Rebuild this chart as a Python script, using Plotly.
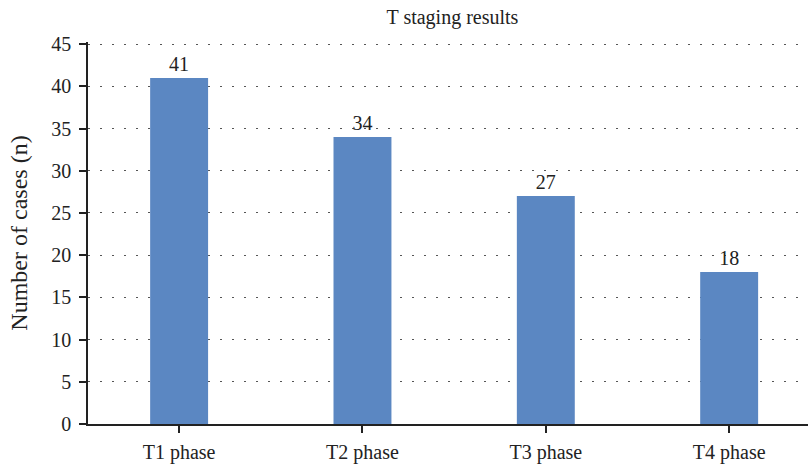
import plotly.graph_objects as go

# T staging counts
categories = ["T1 phase", "T2 phase", "T3 phase", "T4 phase"]
cases = [41, 34, 27, 18]
y_ticks = [0, 5, 10, 15, 20, 25, 30, 35, 40, 45]

font_family = "Liberation Serif, Times New Roman, serif"
ink = "#222222"

fig = go.Figure(
    go.Bar(
        x=categories,
        y=cases,
        width=0.316,
        marker=dict(color="#5B87C2", line=dict(width=0)),
        text=[str(v) for v in cases],
        textposition="outside",
        textfont=dict(family=font_family, size=20, color=ink),
        cliponaxis=False,
    )
)

fig.update_layout(
    width=808,
    height=464,
    margin=dict(l=88, r=0, t=42, b=40),
    paper_bgcolor="white",
    plot_bgcolor="white",
    showlegend=False,
    font=dict(family=font_family, size=20, color=ink),
    title=dict(
        text="T staging results",
        x=0.56,
        xanchor="center",
        y=0.963,
        yanchor="middle",
        font=dict(family=font_family, size=20, color=ink),
    ),
)

fig.update_xaxes(
    type="category",
    range=[-0.497, 3.43],
    showline=True,
    linecolor=ink,
    linewidth=1.5,
    ticks="outside",
    ticklen=7,
    tickwidth=1.5,
    tickcolor=ink,
    showgrid=False,
    ticklabelstandoff=2,
    tickfont=dict(family=font_family, size=20, color=ink),
)

fig.update_yaxes(
    range=[0, 45.25],
    tickvals=y_ticks,
    showline=True,
    linecolor=ink,
    linewidth=1.5,
    ticks="outside",
    ticklen=7,
    tickwidth=1.5,
    tickcolor=ink,
    showgrid=True,
    gridcolor="#555555",
    gridwidth=1,
    griddash="2px,10px",
    zeroline=False,
    ticklabelstandoff=4,
    tickfont=dict(family=font_family, size=20, color=ink),
    title=dict(
        text="Number of cases (n)",
        standoff=17,
        font=dict(family=font_family, size=24, color=ink),
    ),
)

fig.write_html("out.html")
